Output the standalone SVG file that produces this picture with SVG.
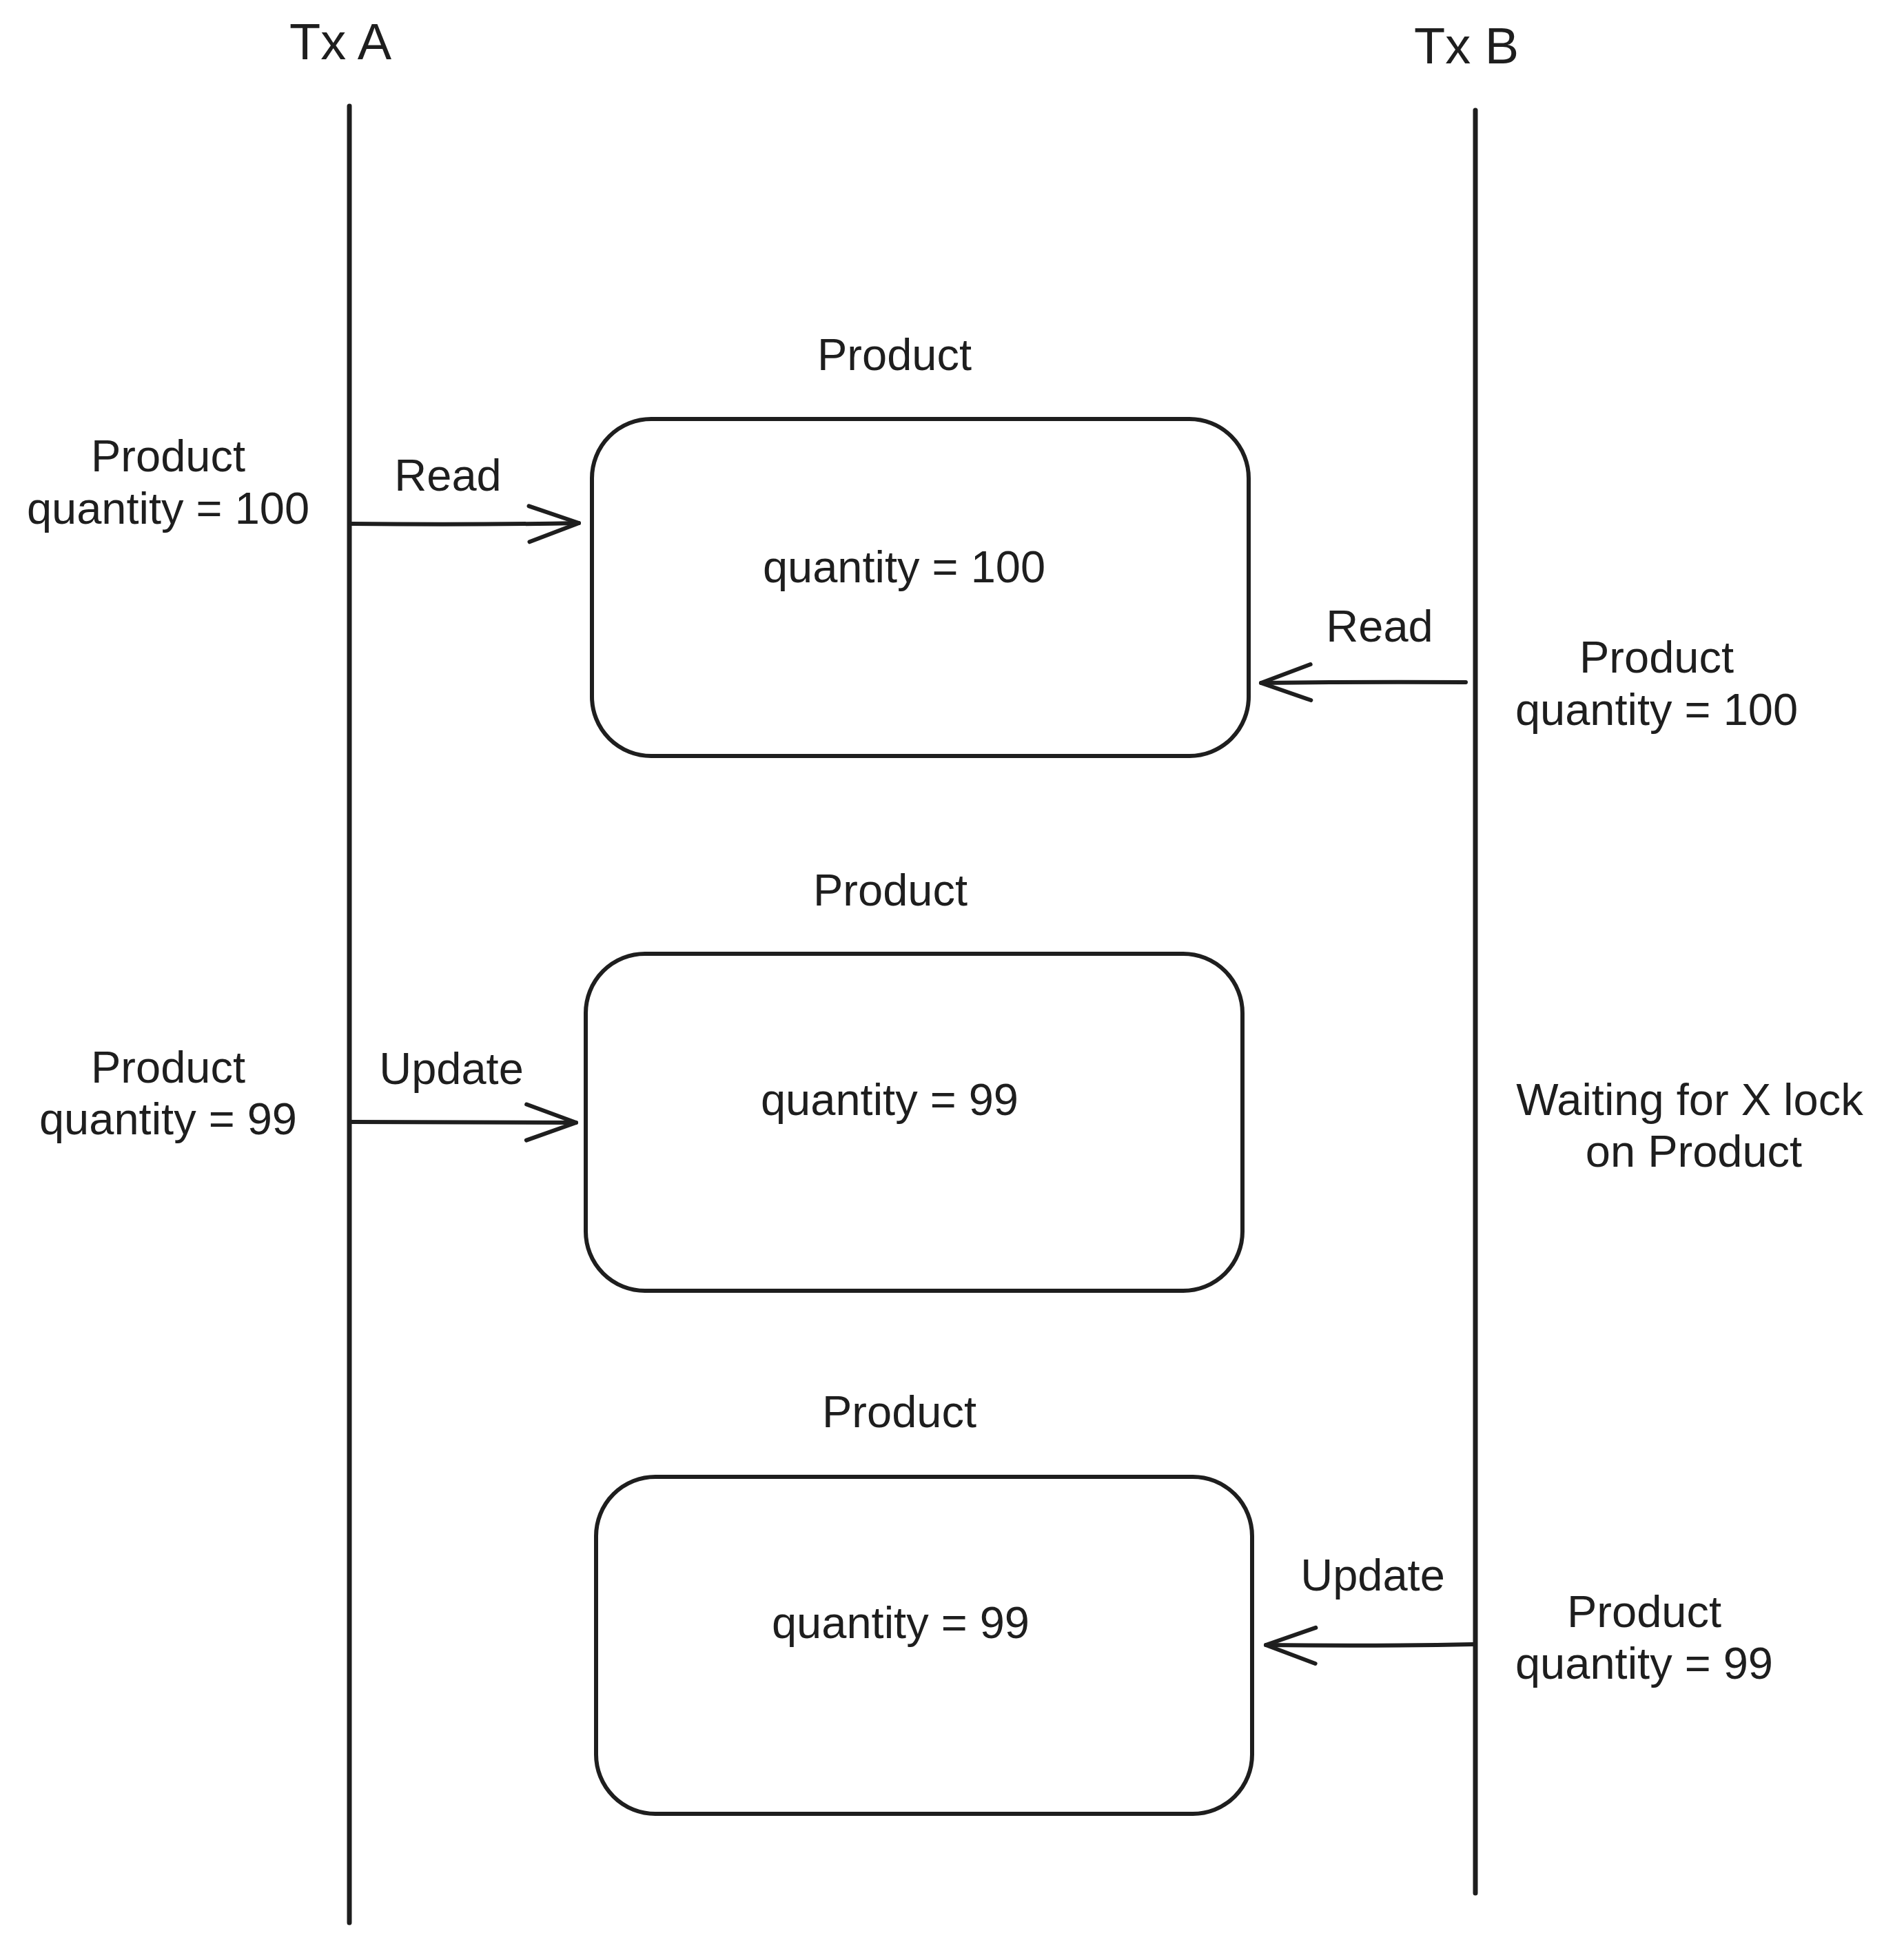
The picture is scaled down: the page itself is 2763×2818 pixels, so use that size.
<svg xmlns="http://www.w3.org/2000/svg" width="2763" height="2818" viewBox="0 0 2763 2818">
<style>
text{font-family:"Liberation Sans",Arial,sans-serif;font-size:65px;fill:#1e1e1e;text-anchor:middle}
.tx{font-size:74px}
.box{fill:#fff;stroke:#1e1e1e;stroke-width:6}
.life{stroke:#1e1e1e;stroke-width:7;stroke-linecap:round;fill:none}
.arrow{stroke:#1e1e1e;stroke-width:6;stroke-linecap:round;fill:none;marker-end:url(#head)}
</style>
<defs>
<marker id="head" markerUnits="userSpaceOnUse" markerWidth="200" markerHeight="200" refX="0" refY="0" orient="auto" overflow="visible">
<path d="M-72,-26 L0,0 L-72,26" fill="none" stroke="#1e1e1e" stroke-width="6" stroke-linecap="round" stroke-linejoin="round"/>
</marker>
</defs>
<rect width="2763" height="2818" fill="#fff"/>
<g id="txA">
<text class="tx" x="494" y="86">Tx A</text>
<line class="life" x1="507" y1="154" x2="507" y2="2790"/>
</g>
<g id="txB">
<text class="tx" x="2128" y="92">Tx B</text>
<line class="life" x1="2141" y1="160" x2="2141" y2="2747"/>
</g>
<g id="product1">
<text x="1298" y="537">Product</text>
<rect class="box" x="859" y="608" width="953" height="489" rx="86" ry="86"/>
<text x="1312" y="845">quantity = 100</text>
</g>
<g id="product2">
<text x="1292" y="1314">Product</text>
<rect class="box" x="850" y="1384" width="953" height="489" rx="86" ry="86"/>
<text x="1291" y="1618">quantity = 99</text>
</g>
<g id="product3">
<text x="1305" y="2071">Product</text>
<rect class="box" x="865" y="2143" width="952" height="489" rx="86" ry="86"/>
<text x="1307" y="2377">quantity = 99</text>
</g>
<g id="labelA1">
<text x="244" y="684">Product</text>
<text x="244" y="760">quantity = 100</text>
</g>
<g id="labelB1">
<text x="2404" y="976">Product</text>
<text x="2404" y="1052">quantity = 100</text>
</g>
<g id="labelA2">
<text x="244" y="1571">Product</text>
<text x="244" y="1646">quantity = 99</text>
</g>
<g id="labelB2">
<text x="2452" y="1618">Waiting for X lock</text>
<text x="2458" y="1693">on Product</text>
</g>
<g id="labelB3">
<text x="2386" y="2361">Product</text>
<text x="2386" y="2436">quantity = 99</text>
</g>
<g id="connectors">
<path class="arrow" d="M510,760 Q675,762 840,759"/>
<text x="650" y="712">Read</text>
<path class="arrow" d="M2127,990 Q1980,989 1830,991"/>
<text x="2002" y="931">Read</text>
<path class="arrow" d="M510,1628 Q673,1628 836,1629"/>
<text x="655" y="1573">Update</text>
<path class="arrow" d="M2138,2386 Q1990,2389 1837,2387"/>
<text x="1992" y="2308">Update</text>
</g>
</svg>
